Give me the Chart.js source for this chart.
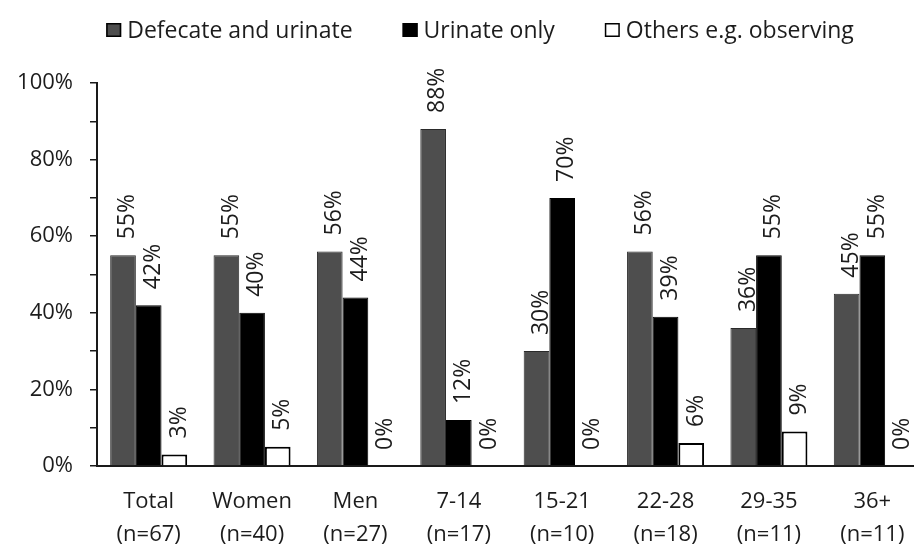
<!DOCTYPE html>
<html>
<head>
<meta charset="utf-8">
<script src="https://cdn.jsdelivr.net/npm/chart.js@4"></script>
<style>
    html, body { margin: 0; padding: 0; overflow: hidden; background: #fff; }
    #wrap { width: 930px; height: 545px; }
</style>
</head>
<body>
<div id="wrap"><canvas id="toiletUseChart" width="930" height="545"></canvas></div>
<script>
// Groups on the x axis (name + sample size)
const groups = ['Total', 'Women', 'Men', '7-14', '15-21', '22-28', '29-35', '36+'];
const sampleSizes = ['(n=67)', '(n=40)', '(n=27)', '(n=17)', '(n=10)', '(n=18)', '(n=11)', '(n=11)'];

// Percentages per group
const defecateAndUrinate = [55, 55, 56, 88, 30, 56, 36, 45];
const urinateOnly = [42, 40, 44, 12, 70, 39, 55, 55];
const othersObserving = [3, 5, 0, 0, 0, 6, 9, 0];

const seriesNames = ['Defecate and urinate', 'Urinate only', 'Others e.g. observing'];

const FONT = "'Open Sans', 'Noto Sans', sans-serif";
const TEXT_COLOR = '#1c1c1c';

// Draws the rotated percentage above every bar
const barValueLabels = {
    id: 'barValueLabels',
    afterDatasetsDraw(chart) {
        const ctx = chart.ctx;
        const size = 23;
        ctx.save();
        ctx.font = size + 'px ' + FONT;
        ctx.fillStyle = TEXT_COLOR;
        ctx.textAlign = 'left';
        ctx.textBaseline = 'alphabetic';
        chart.data.datasets.forEach((ds, i) => {
            const meta = chart.getDatasetMeta(i);
            meta.data.forEach((bar, j) => {
                const x = bar.x + 3 + size * 0.36;
                const y = bar.y - 16;
                ctx.save();
                ctx.translate(x, y);
                ctx.rotate(-Math.PI / 2);
                ctx.fillText(ds.data[j] + '%', 0, 0);
                ctx.restore();
            });
        });
        ctx.restore();
    }
};

// Legend row across the top, centred
const topLegend = {
    id: 'topLegend',
    afterDraw(chart) {
        const ctx = chart.ctx;
        const boxW = 15, boxH = 14, textGap = 6, itemGap = 50;
        const centerX = 480, centerY = 30;
        ctx.save();
        ctx.font = '23px ' + FONT;
        ctx.textBaseline = 'alphabetic';
        ctx.textAlign = 'left';

        const widths = chart.data.datasets.map(ds => boxW + textGap + ctx.measureText(ds.label).width);
        const total = widths.reduce((a, b) => a + b, 0) + itemGap * (widths.length - 1);
        let x = centerX - total / 2;

        chart.data.datasets.forEach((ds, i) => {
            ctx.fillStyle = ds.backgroundColor;
            ctx.fillRect(x, centerY - boxH / 2, boxW, boxH);
            ctx.strokeStyle = '#000';
            ctx.lineWidth = 1.5;
            ctx.strokeRect(x + 0.75, centerY - boxH / 2 + 0.75, boxW - 1.5, boxH - 1.5);
            ctx.fillStyle = TEXT_COLOR;
            ctx.fillText(ds.label, x + boxW + textGap, centerY + 8);
            x += widths[i] + itemGap;
        });
        ctx.restore();
    }
};

function renderChart() {
    const labels = groups.map((g, i) => [g, sampleSizes[i]]);

    const barData = {
        labels: labels,
        datasets: [{
            label: seriesNames[0],
            data: defecateAndUrinate,
            backgroundColor: '#4e4e4e',
            borderColor: '#2a2a2a',
            borderWidth: 1,
        }, {
            label: seriesNames[1],
            data: urinateOnly,
            backgroundColor: '#000000',
            borderColor: '#000000',
            borderWidth: 1,
        }, {
            label: seriesNames[2],
            data: othersObserving,
            backgroundColor: '#ffffff',
            borderColor: '#000000',
            borderWidth: 2,
        }]
    };

    const options = {
        responsive: false,
        maintainAspectRatio: false,
        animation: false,
        layout: {
            padding: { top: 83, right: 6, bottom: 0, left: 0 }
        },
        datasets: {
            bar: {
                categoryPercentage: 0.745,
                barPercentage: 1.0,
                borderSkipped: 'bottom',
            }
        },
        plugins: {
            legend: { display: false },
            tooltip: { enabled: false },
        },
        scales: {
            x: {
                grid: { display: false, drawTicks: false },
                border: { display: true, color: '#1a1a1a', width: 2 },
                ticks: {
                    color: TEXT_COLOR,
                    padding: 19,
                    maxRotation: 0,
                    autoSkip: false,
                    font: { family: FONT, size: 22, lineHeight: 1.5 },
                },
                afterFit(scale) { scale.height = 79; },
            },
            y: {
                min: 0,
                max: 100,
                grid: {
                    drawOnChartArea: false,
                    drawTicks: true,
                    tickLength: 7,
                    tickColor: '#1a1a1a',
                    lineWidth: 1.5,
                },
                border: { display: true, color: '#1a1a1a', width: 2 },
                ticks: {
                    stepSize: 10,
                    color: TEXT_COLOR,
                    padding: 17,
                    font: { family: FONT, size: 22 },
                    callback: v => (v % 20 === 0 ? v + '%' : ''),
                },
                afterFit(scale) { scale.width = 97; },
            }
        }
    };

    const ctx = document.getElementById('toiletUseChart').getContext('2d');

    const existingChart = Chart.getChart('toiletUseChart');
    if (existingChart) {
        existingChart.destroy();
    }

    new Chart(ctx, {
        type: 'bar',
        data: barData,
        options: options,
        plugins: [barValueLabels, topLegend],
    });
}

renderChart();
</script>
</body>
</html>
